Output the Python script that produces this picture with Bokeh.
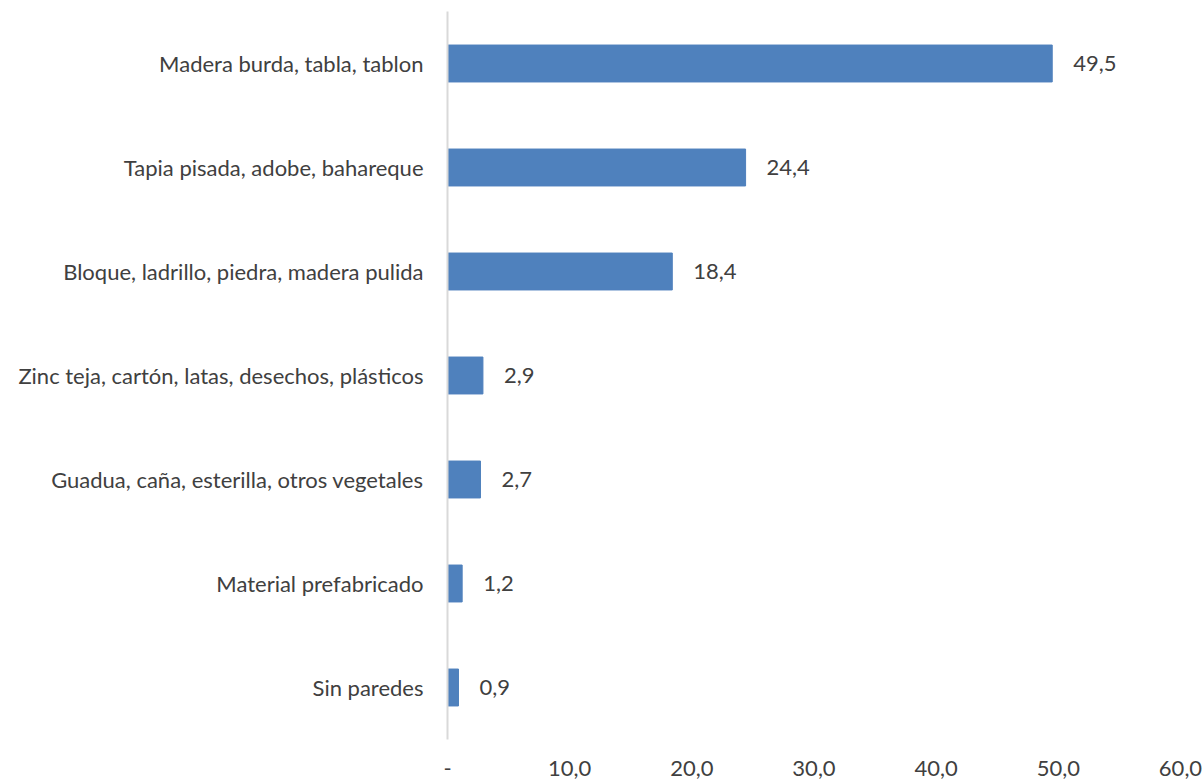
from bokeh.plotting import figure
from bokeh.models import ColumnDataSource, FactorRange, Range1d, FixedTicker
from bokeh.core.properties import value
from bokeh.embed import file_html
from bokeh.resources import INLINE

categories = [
    "Madera burda, tabla, tablon",
    "Tapia pisada, adobe, bahareque",
    "Bloque, ladrillo, piedra, madera pulida",
    "Zinc teja, cartón, latas, desechos, plásticos",
    "Guadua, caña, esterilla, otros vegetales",
    "Material prefabricado",
    "Sin paredes",
]
values = [49.5, 24.4, 18.4, 2.9, 2.7, 1.2, 0.9]
x_ticks = [0, 10, 20, 30, 40, 50, 60]
x_tick_labels = ["-", "10,0", "20,0", "30,0", "40,0", "50,0", "60,0"]

FONT = "Lato"
FS = "22px"
TXT = "#404040"

source = ColumnDataSource(dict(
    cat=categories,
    val=values,
    lab=[f"{v:.1f}".replace(".", ",") for v in values],
))

p = figure(
    width=1202, height=780,
    y_range=FactorRange(factors=list(reversed(categories))),
    x_range=Range1d(0, 60),
    output_backend="svg", toolbar_location=None,
    min_border_left=447, min_border_right=22,
    min_border_top=11, min_border_bottom=41,
)
p.outline_line_color = None
p.background_fill_color = "white"
p.border_fill_color = "white"

p.hbar(y="cat", right="val", left=0, height=0.355, source=source,
       fill_color="#4F81BD", line_color="#4F81BD")

p.text(x="val", y="cat", text="lab", source=source, x_offset=21,
       text_baseline="middle", text_align="left",
       text_font=value(FONT), text_font_size=FS, text_color=TXT)

p.xgrid.visible = False
p.ygrid.visible = False

xa = p.xaxis[0]
xa.ticker = FixedTicker(ticks=x_ticks)
xa.major_label_overrides = {t: l for t, l in zip(x_ticks, x_tick_labels)}
xa.axis_line_color = None
xa.major_tick_line_color = None
xa.minor_tick_line_color = None
xa.major_label_standoff = 15
xa.major_label_text_font = FONT
xa.major_label_text_font_size = FS
xa.major_label_text_color = TXT

ya = p.yaxis[0]
ya.axis_line_color = "#D9D9D9"
ya.axis_line_width = 2
ya.major_tick_line_color = None
ya.minor_tick_line_color = None
ya.major_label_standoff = 18
ya.major_label_text_font = FONT
ya.major_label_text_font_size = FS
ya.major_label_text_color = TXT

open("out.html", "w").write(file_html(p, INLINE))
